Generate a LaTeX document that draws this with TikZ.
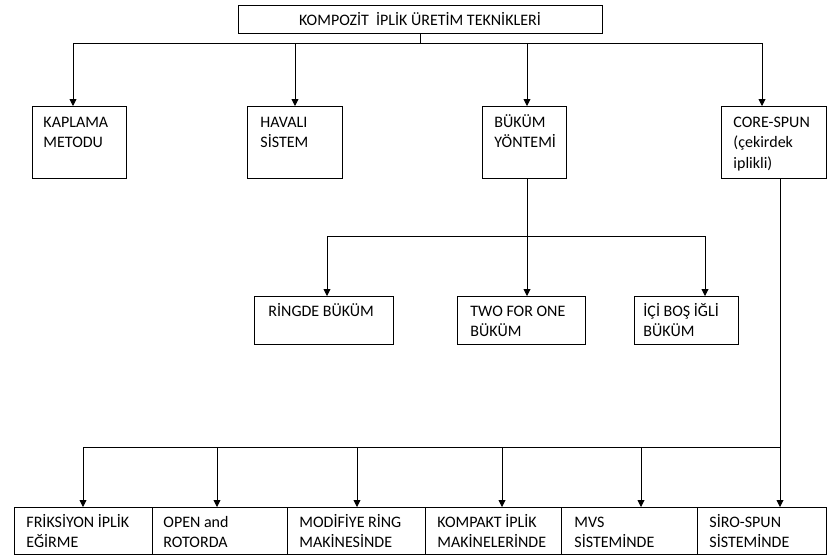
\documentclass[tikz,border=0pt]{standalone}
\usepackage{fontspec}
\setmainfont{Carlito}
\usepackage{tikz}
\usetikzlibrary{arrows.meta}

\begin{document}
\begin{tikzpicture}[x=1pt,y=-1pt,line width=0.9pt,>={Triangle[length=7pt,width=7pt]},
    kutu/.style={draw,rectangle,inner sep=0pt,anchor=north west},
    yazi/.style={anchor=base west,inner sep=0pt,text width=#1,align=flush left,
      font=\fontsize{16}{20.5}\selectfont}]
  \useasboundingbox (0,0) rectangle (828,558);
  % baslik
  \node[kutu,anchor=center,minimum width=364pt,minimum height=28pt,
    font=\fontsize{16}{20}\selectfont] (baslik) at (420,19) {KOMPOZİT~ İPLİK ÜRETİM TEKNİKLERİ};
  % birinci sira
  \node[kutu,minimum width=94pt,minimum height=72pt] (kaplama) at (32,106) {};
  \node[kutu,minimum width=95pt,minimum height=72pt] (havali) at (247,106) {};
  \node[kutu,minimum width=84pt,minimum height=72pt] (bukum) at (482,106) {};
  \node[kutu,minimum width=105pt,minimum height=72pt] (core) at (721,106) {};
  \node[yazi=90pt] (kaplamay) at ([xshift=11pt,yshift=-21pt]kaplama.north west) {KAPLAMA\\METODU};
  \node[yazi=90pt] (havaliy) at ([xshift=13pt,yshift=-21pt]havali.north west) {HAVALI\\SİSTEM};
  \node[yazi=80pt] (bukumy) at ([xshift=12pt,yshift=-21pt]bukum.north west) {BÜKÜM\\YÖNTEMİ};
  \node[yazi=95pt] (corey) at ([xshift=12pt,yshift=-21pt]core.north west) {CORE-SPUN\\(çekirdek\\iplikli)};
  % ikinci sira
  \node[kutu,minimum width=139pt,minimum height=48pt] (ringde) at (254,296) {};
  \node[kutu,minimum width=128pt,minimum height=48pt] (twoforone) at (457,296) {};
  \node[kutu,minimum width=104pt,minimum height=48pt] (icibos) at (634,296) {};
  \node[yazi=130pt] (ringdey) at ([xshift=14pt,yshift=-20pt]ringde.north west) {RİNGDE BÜKÜM};
  \node[yazi=120pt] (twoforoney) at ([xshift=13pt,yshift=-20pt]twoforone.north west) {TWO FOR ONE\\BÜKÜM};
  \node[yazi=100pt] (icibosy) at ([xshift=9pt,yshift=-20pt]icibos.north west) {İÇİ BOŞ İĞLİ\\BÜKÜM};
  % ucuncu sira
  \node[kutu,minimum width=138pt,minimum height=47pt] (friksiyon) at (14,507) {};
  \node[kutu,minimum width=135pt,minimum height=47pt] (open) at (152,507) {};
  \node[kutu,minimum width=138pt,minimum height=47pt] (modifiye) at (287,507) {};
  \node[kutu,minimum width=136pt,minimum height=47pt] (kompakt) at (425,507) {};
  \node[kutu,minimum width=136pt,minimum height=47pt] (mvs) at (561,507) {};
  \node[kutu,minimum width=129pt,minimum height=47pt] (siro) at (697,507) {};
  \node[yazi=130pt] (friksiyony) at ([xshift=12pt,yshift=-20pt]friksiyon.north west) {FRİKSİYON İPLİK\\EĞİRME};
  \node[yazi=130pt] (openy) at ([xshift=11pt,yshift=-20pt]open.north west) {OPEN and\\ROTORDA};
  \node[yazi=130pt] (modifiyey) at ([xshift=12pt,yshift=-20pt]modifiye.north west) {MODİFİYE RİNG\\MAKİNESİNDE};
  \node[yazi=130pt] (kompakty) at ([xshift=12pt,yshift=-20pt]kompakt.north west) {KOMPAKT İPLİK\\MAKİNELERİNDE};
  \node[yazi=130pt] (mvsy) at ([xshift=13pt,yshift=-20pt]mvs.north west) {MVS\\SİSTEMİNDE};
  \node[yazi=120pt] (siroy) at ([xshift=12pt,yshift=-20pt]siro.north west) {SİRO-SPUN\\SİSTEMİNDE};
  % baglanti noktalari
  \coordinate (u1) at (73,43);
  \coordinate (u2) at (295,43);
  \coordinate (u3) at (527,43);
  \coordinate (u4) at (762,43);
  \coordinate (b1) at (327,236);
  \coordinate (b2) at (527,236);
  \coordinate (b3) at (705,236);
  \coordinate (c1) at (83,447);
  \coordinate (c2) at (217,447);
  \coordinate (c3) at (357,447);
  \coordinate (c4) at (502,447);
  \coordinate (c5) at (641,447);
  \coordinate (c6) at (780,447);
  % oklar
  \draw (baslik.south) -- (baslik.south |- u1);
  \draw (u1) -- (u4);
  \foreach \u/\k in {u1/kaplama,u2/havali,u3/bukum,u4/core}
    \draw[->] (\u) -- (\u |- \k.north);
  \draw (bukum.south -| b2) -- (b2);
  \draw (b1) -- (b3);
  \foreach \b/\k in {b1/ringde,b2/twoforone,b3/icibos}
    \draw[->] (\b) -- (\b |- \k.north);
  \draw (core.south -| c6) -- (c6);
  \draw (c1) -- (c6);
  \foreach \c/\k in {c1/friksiyon,c2/open,c3/modifiye,c4/kompakt,c5/mvs,c6/siro}
    \draw[->] (\c) -- (\c |- \k.north);
\end{tikzpicture}
\end{document}
